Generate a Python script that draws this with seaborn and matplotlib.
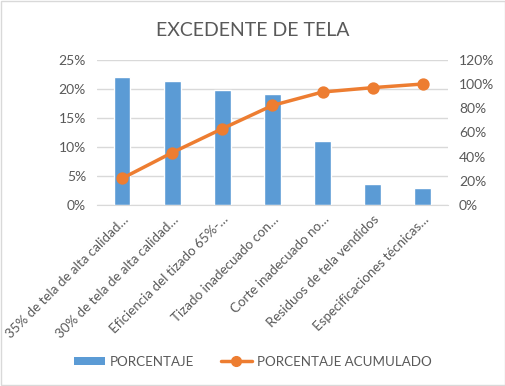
import pandas as pd
import seaborn as sns
import matplotlib.pyplot as plt
from matplotlib.patches import Patch, Rectangle
from matplotlib.lines import Line2D
from matplotlib.ticker import PercentFormatter

categorias = [
    "35% de tela de alta calidad…",
    "30% de tela de alta calidad…",
    "Eficiencia del tizado 65%-…",
    "Tizado inadecuado con…",
    "Corte inadecuado no…",
    "Residuos de tela vendidos",
    "Especificaciones técnicas…",
]
porcentaje = [22.0, 21.3, 19.8, 19.2, 11.1, 3.6, 3.0]
acumulado = [22.0, 43.3, 63.1, 82.3, 93.4, 97.0, 100.0]

azul = "#5B9BD5"
naranja = "#ED7D31"
gris = "#595959"

sns.set_style("white")
plt.rcParams["font.family"] = ["Lato", "DejaVu Sans"]

df = pd.DataFrame({"Causa": categorias, "PORCENTAJE": porcentaje,
                   "PORCENTAJE ACUMULADO": acumulado})

fig = plt.figure(figsize=(5.06, 3.86), dpi=100)
ax = fig.add_axes([0.192, 0.469, 0.693, 0.376])

sns.barplot(data=df, x="Causa", y="PORCENTAJE", color=azul, width=0.33,
            saturation=1, ax=ax)
ax.set_ylim(0, 25)
ax.set_yticks(range(0, 26, 5))
ax.yaxis.set_major_formatter(PercentFormatter(decimals=0))
ax.grid(axis="y", color="#D9D9D9", linewidth=1)
ax.set_axisbelow(True)
ax.set_xlabel("")
ax.set_ylabel("")
ax.set_xlim(-0.5, len(categorias) - 0.5)

ax2 = ax.twinx()
sns.pointplot(data=df, x="Causa", y="PORCENTAJE ACUMULADO", color=naranja,
              markers="o", markersize=7, linewidth=2.5, ax=ax2)
ax2.set_ylim(0, 120)
ax2.set_yticks(range(0, 121, 20))
ax2.yaxis.set_major_formatter(PercentFormatter(decimals=0))
ax2.set_ylabel("")
ax2.set_xlim(-0.5, len(categorias) - 0.5)

for a in (ax, ax2):
    for s in a.spines.values():
        s.set_visible(False)
    a.tick_params(length=0, colors=gris, labelsize=10)
ax.spines["bottom"].set_visible(True)
ax.spines["bottom"].set_color("#D9D9D9")
ax.tick_params(axis="y", pad=8)
ax2.tick_params(axis="y", pad=8)

ax.set_xticks(range(len(categorias)))
ax.set_xticklabels(categorias, rotation=45, ha="right", rotation_mode="anchor",
                   fontsize=9.6, color=gris)
ax.tick_params(axis="x", pad=6)

fig.text(0.5, 0.922, "EXCEDENTE DE TELA", ha="center", va="center",
         fontsize=14, color=gris)

handles = [Patch(facecolor=azul, edgecolor="none"),
           Line2D([0], [0], color=naranja, linewidth=2.5, marker="o", markersize=7)]
fig.legend(handles, ["PORCENTAJE", "PORCENTAJE ACUMULADO"], loc="center",
           bbox_to_anchor=(0.5, 0.063), ncol=2, frameon=False, fontsize=9.6,
           labelcolor=gris, handlelength=2.3, handleheight=0.6,
           handletextpad=0.4, columnspacing=2.0)

fig.patches.append(Rectangle((0.002, 0.003), 0.996, 0.994, transform=fig.transFigure,
                             fill=False, edgecolor="#D9D9D9", linewidth=1))

fig.savefig("out.png", dpi=100)
